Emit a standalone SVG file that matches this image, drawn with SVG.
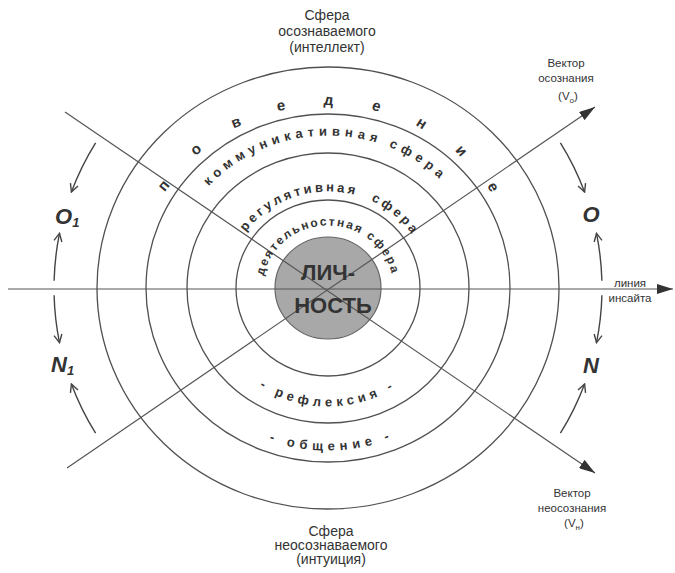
<svg xmlns="http://www.w3.org/2000/svg" width="675" height="573" viewBox="0 0 675 573">
<style>
.ring{fill:none;stroke:#505050;stroke-width:1.3}
.ln{stroke:#555;stroke-width:1.2;fill:none}
.carr{stroke:#444;stroke-width:1.4;fill:none;marker-end:url(#open)}
.lbl{font-family:"Liberation Sans",Arial,sans-serif;fill:#333;text-anchor:middle}
.rt{font-family:"Liberation Sans",Arial,sans-serif;fill:#333;font-weight:bold}
.let{font-family:"Liberation Sans",Arial,sans-serif;font-weight:bold;font-style:italic;fill:#333;font-size:22px}
</style>
<defs>
<marker id="tri" markerUnits="userSpaceOnUse" viewBox="0 0 16 10" refX="16" refY="5" markerWidth="16" markerHeight="10" orient="auto"><path d="M0,0 L16,5 L0,10 Z" fill="#333"/></marker>
<marker id="open" markerUnits="userSpaceOnUse" viewBox="0 0 10 10" refX="9" refY="5" markerWidth="10" markerHeight="10" orient="auto"><path d="M1,1 L9,5 L1,9" fill="none" stroke="#444" stroke-width="1.4"/></marker>
<path id="p1" d="M 138 288 A 190 182 0 0 1 518 288"/>
<path id="p2" d="M 168 288 A 160 152.5 0 0 1 488 288"/>
<path id="p3" d="M 227 288 A 101 96.5 0 0 1 429 288"/>
<path id="p4" d="M 262.5 288 A 65.5 62.5 0 0 1 393.5 288"/>
<path id="p5" d="M 204 288 A 124 118.5 0 0 0 452 288"/>
<path id="p6" d="M 158 288 A 170 162.5 0 0 0 498 288"/>
</defs>
<rect width="675" height="573" fill="#fff"/>

<g id="spheres">
<ellipse class="ring" cx="328" cy="288" rx="231" ry="221"/>
<ellipse class="ring" cx="328" cy="288" rx="182" ry="174"/>
<ellipse class="ring" cx="328" cy="288" rx="141" ry="135"/>
<ellipse class="ring" cx="328" cy="288" rx="92" ry="88"/>
</g>
<g id="lichnost-circle">
<ellipse cx="328" cy="288" rx="53" ry="51" fill="#a8a8a8" stroke="#666" stroke-width="1.2"/>
</g>

<g id="connectors">
<line class="ln" x1="8" y1="289" x2="673" y2="289" marker-end="url(#tri)"/>
<line class="ln" x1="65" y1="112" x2="595" y2="473" marker-end="url(#tri)"/>
<line class="ln" x1="67" y1="468" x2="595" y2="107" marker-end="url(#tri)"/>
<path class="carr" d="M 560.4 142.8 A 274 274 0 0 1 584.6 192"/>
<path class="carr" d="M 601.9 280.8 A 274 274 0 0 0 596.5 233.4"/>
<path class="carr" d="M 601.9 295.2 A 274 274 0 0 1 596.5 342.6"/>
<path class="carr" d="M 560.4 433.2 A 274 274 0 0 0 584.6 384"/>
<path class="carr" d="M 95.6 142.8 A 274 274 0 0 0 71.4 192"/>
<path class="carr" d="M 54.1 280.8 A 274 274 0 0 1 59.5 233.4"/>
<path class="carr" d="M 54.1 295.2 A 274 274 0 0 0 59.5 342.6"/>
<path class="carr" d="M 95.6 433.2 A 274 274 0 0 1 71.4 384"/>
</g>

<g id="ring-texts">
<text class="rt" font-size="15" letter-spacing="38"><textPath href="#p1" startOffset="100">поведение</textPath></text>
<text class="rt" font-size="13" letter-spacing="4.8"><textPath href="#p2" startOffset="112">коммуникативная сфера</textPath></text>
<text class="rt" font-size="13" letter-spacing="3" word-spacing="8"><textPath href="#p3" startOffset="60">регулятивная сфера</textPath></text>
<text class="rt" font-size="12" letter-spacing="1.9"><textPath href="#p4" startOffset="12">деятельностная сфера</textPath></text>
<text class="rt" font-size="13" letter-spacing="4.5"><textPath href="#p5" startOffset="118">- рефлексия -</textPath></text>
<text class="rt" font-size="13" letter-spacing="5"><textPath href="#p6" startOffset="201">- общение -</textPath></text>
</g>

<g id="lichnost">
<text class="lbl" font-size="22" font-weight="bold" fill="#3a3a3a" x="328" y="280">ЛИЧ-</text>
<text class="lbl" font-size="22" font-weight="bold" fill="#3a3a3a" x="333" y="313">НОСТЬ</text>
</g>

<g id="sphere-conscious">
<text class="lbl" font-size="14" x="327" y="20">Сфера</text>
<text class="lbl" font-size="14" x="327" y="36">осознаваемого</text>
<text class="lbl" font-size="14" x="327" y="52">(интеллект)</text>
</g>
<g id="sphere-unconscious">
<text class="lbl" font-size="14" x="331" y="536">Сфера</text>
<text class="lbl" font-size="14" x="331" y="550">неосознаваемого</text>
<text class="lbl" font-size="14" x="331" y="564">(интуиция)</text>
</g>
<g id="vector-conscious">
<text class="lbl" font-size="11.5" x="566" y="67">Вектор</text>
<text class="lbl" font-size="11.5" x="566" y="82">осознания</text>
<text class="lbl" font-size="11.5" x="568" y="100">(V<tspan font-size="8" dy="3">о</tspan><tspan dy="-3">)</tspan></text>
</g>
<g id="vector-unconscious">
<text class="lbl" font-size="11.5" x="572" y="497">Вектор</text>
<text class="lbl" font-size="11.5" x="572" y="512">неосознания</text>
<text class="lbl" font-size="11.5" x="574" y="527">(V<tspan font-size="8" dy="3">н</tspan><tspan dy="-3">)</tspan></text>
</g>
<g id="insight-line-label">
<text class="lbl" font-size="11.5" x="630" y="287">линия</text>
<text class="lbl" font-size="11.5" x="630" y="302">инсайта</text>
</g>
<g id="state-O"><text class="let" x="591" y="222" text-anchor="middle">O</text></g>
<g id="state-N"><text class="let" x="591" y="373" text-anchor="middle">N</text></g>
<g id="state-O1"><text class="let" x="55" y="224">O<tspan font-size="13" dy="3">1</tspan></text></g>
<g id="state-N1"><text class="let" x="51" y="372">N<tspan font-size="13" dy="3">1</tspan></text></g>
</svg>
